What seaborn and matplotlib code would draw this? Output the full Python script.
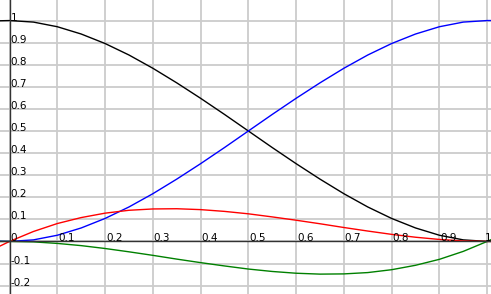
import numpy as np
import pandas as pd
import matplotlib
matplotlib.use("Agg")
import matplotlib.pyplot as plt
import seaborn as sns

# ---------- data ---------- #
t_vals = [-0.02, 0.0, 0.05, 0.1, 0.15, 0.2, 0.25, 0.3, 0.35, 0.4, 0.45, 0.5,
          0.55, 0.6, 0.65, 0.7, 0.75, 0.8, 0.85, 0.9, 0.95, 1.0, 1.01]

black_vals = [0.999, 1.0, 0.993, 0.972, 0.939, 0.896, 0.844, 0.784, 0.718, 0.648, 0.575, 0.5,
              0.425, 0.352, 0.282, 0.216, 0.156, 0.104, 0.061, 0.028, 0.007, 0.0, 0.0]
blue_vals = [0.001, 0.0, 0.007, 0.028, 0.061, 0.104, 0.156, 0.216, 0.282, 0.352, 0.425, 0.5,
             0.575, 0.648, 0.718, 0.784, 0.844, 0.896, 0.939, 0.972, 0.993, 1.0, 1.0]
red_vals = [-0.021, 0.0, 0.045, 0.081, 0.108, 0.128, 0.141, 0.147, 0.148, 0.144, 0.136, 0.125,
            0.111, 0.096, 0.080, 0.063, 0.047, 0.032, 0.019, 0.009, 0.002, 0.0, 0.0]
green_vals = [0.0, 0.0, -0.002, -0.009, -0.019, -0.032, -0.047, -0.063, -0.080, -0.096, -0.111, -0.125,
              -0.136, -0.144, -0.148, -0.147, -0.141, -0.128, -0.108, -0.081, -0.045, 0.0, 0.010]

series_names = ["black", "blue", "red", "green"]
series_colors = ["#000000", "#0000ff", "#ff0000", "#008000"]

x_ticks = [0.1, 0.2, 0.3, 0.4, 0.5, 0.6, 0.7, 0.8, 0.9, 1]
y_ticks = [1, 0.9, 0.8, 0.7, 0.6, 0.5, 0.4, 0.3, 0.2, 0.1, 0, -0.1, -0.2]
x_tick_labels = ["0.1", "0.2", "0.3", "0.4", "0.5", "0.6", "0.7", "0.8", "0.9", "1"]
y_tick_labels = ["1", "0.9", "0.8", "0.7", "0.6", "0.5", "0.4", "0.3", "0.2", "0.1", "0", "-0.1", "-0.2"]

# ---------- build long table ---------- #
frames = []
for name, vals in zip(series_names, [black_vals, blue_vals, red_vals, green_vals]):
    frames.append(pd.DataFrame({"t": t_vals, "value": vals, "curve": name}))
df = pd.concat(frames, ignore_index=True)

sns.set_style("white")
plt.rcParams["font.family"] = ["DejaVu Sans"]

fig = plt.figure(figsize=(4.91, 2.94), dpi=100)
ax = fig.add_axes([0, 0, 1, 1])

sns.lineplot(data=df, x="t", y="value", hue="curve", hue_order=series_names,
             palette=series_colors, linewidth=1.0, sort=False, legend=False, ax=ax)

ax.set_xlim(-0.02, 1.008)
ax.set_ylim(-0.238, 1.093)

# grid
ax.set_xticks(np.arange(0, 1.01, 0.1))
ax.set_yticks(np.arange(-0.2, 1.01, 0.1))
ax.grid(True, color="#cccccc", linewidth=1.3)
ax.tick_params(length=0, labelbottom=False, labelleft=False)
ax.set_xlabel("")
ax.set_ylabel("")

# axes through the origin
for side in ["top", "right"]:
    ax.spines[side].set_visible(False)
ax.spines["left"].set_position(("data", 0))
ax.spines["bottom"].set_position(("data", 0))
for side in ["left", "bottom"]:
    ax.spines[side].set_color("#333333")
    ax.spines[side].set_linewidth(1.0)

# tick labels sitting inside the quadrant, next to the grid crossings
for val, lab in zip(y_ticks, y_tick_labels):
    ax.text(0.002, val, lab, fontsize=7.5, ha="left", va="baseline", color="#000000")
for val, lab in zip(x_ticks, x_tick_labels):
    ha = "center" if val == 1 else "left"
    ax.text(val + 0.002, 0, lab, fontsize=7.5, ha=ha, va="baseline", color="#000000")

fig.savefig("out.png", dpi=100)
